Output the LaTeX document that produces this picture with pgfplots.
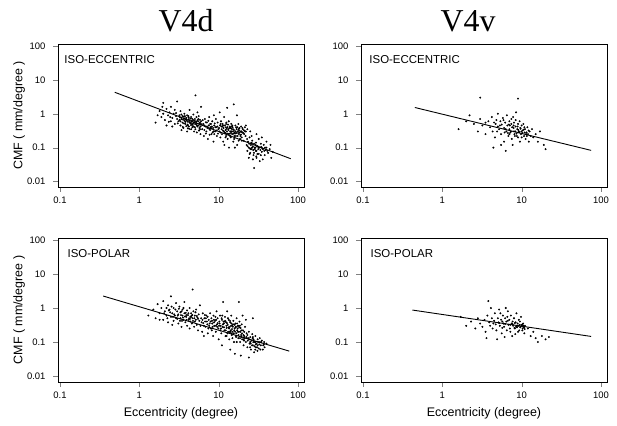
\documentclass[border=0pt]{standalone}
\usepackage{fontspec}
\setmainfont{Liberation Sans}
\newfontfamily\titlefont{Liberation Serif}
\usepackage{pgfplots}
\usepackage{pgfplotstable}
\pgfplotsset{compat=1.18}

% V4d iso-eccentric
\pgfplotstableread[row sep=\\]{x y\\
1.6 0.55\\ 1.8 1.2\\ 1.9 0.8\\ 2.0 2.1\\ 2.1 0.65\\ 2.2 1.4\\ 2.3 0.9\\ 2.4 1.1\\ 2.5 0.6\\ 2.5 1.6\\ 2.6 0.75\\ 2.7 1.0\\ 2.8 0.5\\ 2.8 1.3\\ 2.9 0.85\\ 3.0 2.3\\ 3.0 0.7\\ 2.2 0.45\\ 2.6 0.42\\ 1.7 0.9\\ 2.0 1.0\\ 2.35 0.58\\ 2.9 1.05\\ 2.45 0.8\\ 1.95 1.6\\
3.1 0.6\\ 3.2 0.9\\ 3.3 0.45\\ 3.3 1.2\\ 3.4 0.7\\ 3.5 0.55\\ 3.5 0.85\\ 3.6 0.38\\ 3.7 1.0\\ 3.7 0.62\\ 3.8 0.5\\ 3.9 0.75\\ 4.0 0.3\\ 4.0 0.9\\ 4.1 0.58\\ 4.2 0.68\\ 4.2 0.42\\ 4.3 1.3\\ 4.4 0.52\\ 4.5 0.8\\ 4.5 0.35\\ 4.6 0.62\\ 4.7 0.47\\ 4.8 0.95\\ 4.9 0.55\\ 5.0 0.4\\ 5.0 0.7\\ 5.1 3.5\\ 5.2 0.5\\ 5.3 0.28\\ 5.4 0.65\\ 5.5 0.45\\ 5.6 0.85\\ 5.7 0.38\\ 5.8 0.55\\ 5.9 0.25\\ 6.0 0.6\\ 6.0 1.6\\ 3.4 0.33\\ 3.9 0.43\\ 4.4 0.72\\ 4.9 0.3\\ 5.4 1.1\\ 5.9 0.42\\ 3.25 0.78\\ 3.65 0.52\\ 4.15 0.85\\ 4.65 0.4\\ 5.15 0.6\\ 5.65 0.32\\ 3.55 0.67\\ 4.05 0.48\\ 4.55 0.58\\ 5.05 0.5\\ 5.55 0.7\\ 3.75 0.85\\ 4.25 0.36\\ 4.75 0.66\\ 5.25 0.8\\ 5.75 0.48\\
3.05 0.52\\ 3.22 0.66\\ 3.38 0.95\\ 3.52 0.41\\ 3.68 0.73\\ 3.82 0.58\\ 3.96 0.64\\ 4.08 0.37\\ 4.18 0.77\\ 4.32 0.56\\ 4.48 0.46\\ 4.62 0.71\\ 4.78 0.53\\ 4.92 0.62\\ 5.08 0.35\\ 5.22 0.57\\ 5.38 0.42\\ 5.52 0.6\\ 5.68 0.52\\ 5.82 0.35\\ 5.95 0.5\\ 3.3 0.6\\ 3.8 0.68\\ 4.3 0.62\\ 4.8 0.42\\ 5.3 0.46\\ 5.8 0.66\\ 4.1 0.45\\ 4.6 0.5\\ 3.6 0.82\\
6.2 0.35\\ 6.4 0.5\\ 6.5 0.22\\ 6.7 0.7\\ 6.8 0.42\\ 7.0 0.3\\ 7.1 0.55\\ 7.3 0.18\\ 7.5 0.45\\ 7.6 0.8\\ 7.8 0.33\\ 8.0 0.5\\ 8.1 0.25\\ 8.3 0.6\\ 8.5 0.38\\ 8.6 0.15\\ 8.8 0.45\\ 9.0 0.3\\ 9.2 0.7\\ 9.3 0.4\\ 9.5 0.22\\ 9.7 0.55\\ 9.9 0.35\\ 6.3 0.65\\ 6.9 0.26\\ 7.4 0.62\\ 7.9 0.4\\ 8.4 0.28\\ 8.9 0.52\\ 9.4 0.32\\ 6.6 0.45\\ 7.2 0.38\\ 7.7 0.24\\ 8.2 0.42\\ 8.7 0.9\\
6.1 0.48\\ 6.6 0.33\\ 7.1 0.42\\ 7.6 0.36\\ 8.1 0.37\\ 8.6 0.3\\ 9.1 0.4\\ 9.6 0.42\\ 6.9 0.56\\ 7.8 0.5\\ 8.8 0.25\\ 9.8 0.26\\
10.2 0.3\\ 10.4 0.45\\ 10.5 0.2\\ 10.7 0.6\\ 10.9 0.35\\ 11.0 0.25\\ 11.2 0.5\\ 11.4 0.15\\ 11.5 0.38\\ 11.7 0.8\\ 11.9 0.28\\ 12.0 0.45\\ 12.2 0.33\\ 12.4 0.22\\ 12.5 0.55\\ 12.7 0.3\\ 12.9 0.4\\ 13.0 0.18\\ 13.2 0.35\\ 13.4 0.6\\ 13.6 0.26\\ 13.8 0.42\\ 14.0 0.3\\ 14.2 0.2\\ 14.4 0.5\\ 14.6 0.36\\ 14.8 0.25\\ 15.0 0.4\\ 15.3 0.15\\ 15.6 0.33\\ 15.9 0.28\\ 16.2 0.45\\ 16.5 0.22\\ 16.8 0.35\\ 17.1 0.12\\ 17.4 0.3\\ 17.7 0.5\\ 18.0 0.25\\ 18.3 0.38\\ 18.6 0.18\\ 18.9 0.3\\ 19.2 0.42\\ 19.5 0.2\\ 19.8 0.28\\ 20.2 0.35\\ 20.6 0.16\\ 21.0 0.25\\ 21.4 0.4\\ 21.8 0.22\\ 10.3 1.1\\ 12.8 1.5\\ 15.5 1.9\\ 17.0 0.9\\ 11.8 0.12\\ 13.5 0.1\\ 16.0 0.1\\ 10.8 0.42\\ 12.1 0.27\\ 13.1 0.48\\ 14.1 0.38\\ 15.1 0.3\\ 16.1 0.26\\ 17.2 0.4\\ 18.1 0.32\\ 19.1 0.24\\ 11.3 0.32\\ 12.6 0.36\\ 13.9 0.23\\ 14.9 0.45\\ 22.0 0.3\\ 22.0 0.45\\
10.1 0.38\\ 10.6 0.28\\ 11.1 0.42\\ 11.6 0.3\\ 12.3 0.4\\ 12.8 0.26\\ 13.3 0.33\\ 13.7 0.38\\ 14.3 0.27\\ 14.7 0.42\\ 15.2 0.35\\ 15.8 0.22\\ 16.3 0.3\\ 16.7 0.27\\ 17.3 0.22\\ 17.8 0.35\\ 18.4 0.28\\ 18.8 0.22\\ 19.4 0.3\\ 19.9 0.38\\ 20.4 0.27\\ 20.9 0.32\\ 21.6 0.3\\ 11.4 0.45\\ 12.4 0.5\\ 13.3 0.25\\ 14.5 0.3\\ 15.4 0.26\\ 16.6 0.4\\ 17.6 0.27\\ 10.6 0.5\\ 12.2 0.2\\ 14.0 0.22\\ 15.7 0.18\\ 17.9 0.16\\ 19.6 0.16\\
22.5 0.12\\ 23 0.08\\ 23.5 0.15\\ 24 0.1\\ 24.5 0.2\\ 25 0.07\\ 25.5 0.12\\ 26 0.09\\ 26.5 0.16\\ 27 0.11\\ 27.5 0.06\\ 28 0.13\\ 28.5 0.09\\ 29 0.1\\ 29.5 0.14\\ 30 0.08\\ 31 0.11\\ 32 0.065\\ 33 0.1\\ 34 0.13\\ 35 0.075\\ 36 0.09\\ 37 0.12\\ 38 0.06\\ 39 0.085\\ 40 0.1\\ 42 0.07\\ 44 0.09\\ 46 0.05\\ 48 0.075\\ 24 0.05\\ 27 0.045\\ 30 0.05\\ 33 0.04\\ 36 0.045\\ 28 0.025\\ 25 0.3\\ 30 0.25\\ 23 0.35\\ 26 0.22\\ 35 0.2\\ 32 0.18\\ 40 0.15\\ 45 0.12\\ 26.2 0.135\\ 29.2 0.12\\ 31.5 0.09\\ 34.5 0.105\\ 37.5 0.08\\ 24.8 0.095\\
23.2 0.11\\ 24.2 0.13\\ 25.2 0.09\\ 26.4 0.1\\ 27.3 0.085\\ 28.3 0.1\\ 29.4 0.08\\ 30.5 0.11\\ 31.8 0.1\\ 33.5 0.085\\ 35.5 0.095\\ 38.5 0.1\\ 25.8 0.14\\ 27.8 0.07\\ 30.8 0.065\\ 34 0.06\\ 22.8 0.18\\ 24.6 0.065\\ 29.8 0.055\\ 41 0.08\\
}\tableTL

% V4v iso-eccentric
\pgfplotstableread[row sep=\\]{x y\\
1.6 0.35\\ 2.0 0.6\\ 2.2 0.9\\ 2.5 0.5\\ 2.8 0.3\\ 3.0 0.7\\ 3.2 0.45\\ 3.5 0.55\\ 3.5 0.25\\ 3.8 0.6\\ 4.0 0.4\\ 4.2 0.8\\ 4.3 0.3\\ 4.5 0.55\\ 4.6 0.2\\ 4.8 0.65\\ 5.0 0.42\\ 5.0 1.0\\ 5.2 0.35\\ 5.4 0.6\\ 5.5 0.25\\ 5.6 0.48\\ 5.8 0.75\\ 6.0 0.38\\ 6.0 0.15\\ 6.2 0.55\\ 6.4 0.3\\ 6.5 0.9\\ 6.6 0.45\\ 6.8 0.22\\ 7.0 0.6\\ 7.0 0.35\\ 7.2 0.28\\ 7.4 0.5\\ 7.5 0.18\\ 7.6 0.4\\ 7.8 0.8\\ 8.0 0.3\\ 8.0 0.55\\ 8.2 0.22\\ 8.4 0.42\\ 8.5 1.1\\ 8.6 0.26\\ 8.8 0.35\\ 9.0 0.2\\ 9.0 0.5\\ 9.2 0.3\\ 9.4 0.6\\ 9.5 0.15\\ 9.6 0.38\\ 9.8 0.25\\ 10.0 0.45\\ 10.0 0.2\\ 10.3 0.32\\ 10.5 0.5\\ 10.7 0.22\\ 11.0 0.35\\ 11.2 0.18\\ 11.5 0.28\\ 11.8 0.4\\ 12.0 0.25\\ 12.3 0.15\\ 12.6 0.3\\ 13.0 0.22\\ 13.5 0.35\\ 14 0.2\\ 15 0.25\\ 16 0.15\\ 17 0.3\\ 19 0.12\\ 20 0.09\\ 3.0 3.0\\ 9.0 2.8\\ 5.5 0.12\\ 7.7 0.12\\ 4.4 0.1\\ 6.3 0.08\\ 5.9 0.65\\ 6.9 0.48\\ 7.9 0.38\\ 8.9 0.42\\ 9.9 0.3\\ 10.9 0.28\\ 6.1 0.28\\ 7.1 0.45\\ 8.1 0.25\\ 4.9 0.3\\
6.3 0.35\\ 7.3 0.3\\ 8.3 0.3\\ 9.3 0.28\\ 10.2 0.27\\ 11.3 0.25\\ 7.9 0.45\\ 8.7 0.22\\ 9.7 0.36\\ 10.8 0.4\\ 5.3 0.45\\ 6.7 0.27\\ 12.2 0.32\\ 4.7 0.5\\ 8.4 0.65\\ 7.4 0.7\\ 11.6 0.22\\ 9.1 0.33\\ 10.6 0.34\\ 7.0 0.25\\
}\tableTR

% V4d iso-polar
\pgfplotstableread[row sep=\\]{x y\\
1.3 0.6\\ 1.5 0.9\\ 1.6 0.5\\ 1.7 1.3\\ 1.8 0.7\\ 1.9 1.0\\ 2.0 0.45\\ 2.0 1.6\\ 2.1 0.8\\ 2.2 0.6\\ 2.3 1.2\\ 2.3 0.38\\ 2.4 0.9\\ 2.5 0.55\\ 2.5 2.2\\ 2.6 0.7\\ 2.7 1.0\\ 2.7 0.42\\ 2.8 0.6\\ 2.9 1.4\\ 2.9 0.5\\ 3.0 0.8\\ 3.1 0.35\\ 3.1 0.65\\ 3.2 1.1\\ 3.3 0.5\\ 3.3 0.75\\ 3.4 0.28\\ 3.5 0.9\\ 3.5 0.6\\ 3.6 0.45\\ 3.7 0.7\\ 3.7 1.5\\ 3.8 0.38\\ 3.9 0.55\\ 4.0 0.85\\ 4.0 0.3\\ 4.1 0.62\\ 4.2 0.45\\ 4.3 1.0\\ 4.3 0.25\\ 4.4 0.55\\ 4.5 0.7\\ 4.6 0.35\\ 4.7 3.5\\ 4.7 0.5\\ 4.8 0.8\\ 4.9 0.28\\ 5.0 0.6\\ 5.0 0.4\\ 5.2 0.9\\ 5.3 0.32\\ 5.4 0.52\\ 5.5 0.22\\ 5.6 0.65\\ 5.7 0.42\\ 5.8 1.2\\ 5.9 0.3\\ 6.0 0.5\\ 6.2 0.2\\ 6.3 0.7\\ 6.4 0.36\\ 6.5 0.15\\ 6.6 0.5\\ 6.8 0.28\\ 7.0 0.6\\ 7.1 0.4\\ 7.3 0.18\\ 7.5 0.45\\ 7.6 0.3\\ 7.8 0.7\\ 8.0 0.25\\ 8.1 0.5\\ 8.3 0.35\\ 8.5 0.15\\ 8.6 0.6\\ 8.8 0.3\\ 9.0 0.42\\ 9.2 0.2\\ 9.4 0.8\\ 9.5 0.33\\ 9.7 0.5\\ 9.9 0.25\\ 10.0 0.12\\ 10.2 0.4\\ 10.4 0.6\\ 10.6 0.3\\ 10.8 0.18\\ 11.0 0.45\\ 11.2 0.28\\ 11.4 1.5\\ 11.6 0.35\\ 11.8 0.22\\ 12.0 0.55\\ 12.2 0.15\\ 12.4 0.38\\ 12.6 0.26\\ 12.8 0.8\\ 13.0 0.32\\ 13.2 0.2\\ 13.4 0.45\\ 13.6 0.12\\ 13.8 0.28\\ 14.0 0.38\\ 14.2 0.22\\ 14.4 0.6\\ 14.6 0.16\\ 14.8 0.3\\ 15.0 0.2\\ 15.3 0.42\\ 15.6 0.1\\ 15.9 0.25\\ 16.2 0.35\\ 16.5 0.15\\ 16.8 0.5\\ 17.1 0.22\\ 17.4 0.3\\ 17.7 0.13\\ 18.0 0.2\\ 18.3 0.4\\ 18.6 0.1\\ 18.9 0.26\\ 19.2 0.16\\ 19.5 0.33\\ 19.8 0.12\\ 20.2 0.22\\ 20.6 0.08\\ 21.0 0.15\\ 21.5 0.28\\ 22.0 0.1\\ 22.5 0.18\\ 23.0 0.07\\ 23.5 0.13\\ 24.0 0.2\\ 24.5 0.09\\ 25.0 0.14\\ 25.5 0.06\\ 26.0 0.11\\ 26.5 0.17\\ 27.0 0.08\\ 27.5 0.12\\ 28.0 0.05\\ 28.5 0.1\\ 29.0 0.15\\ 29.5 0.07\\ 30.0 0.09\\ 31.0 0.12\\ 32.0 0.065\\ 33.0 0.1\\ 34.0 0.08\\ 35.0 0.11\\ 36.0 0.06\\ 37.0 0.085\\ 38.0 0.07\\ 40.0 0.09\\ 27 0.5\\ 22 0.45\\ 18 1.5\\ 20 0.6\\ 24 0.035\\ 19 0.04\\ 16 0.045\\ 14 0.06\\ 11 0.08\\
3.15 0.95\\ 3.45 0.42\\ 3.85 0.72\\ 4.25 0.5\\ 4.65 0.62\\ 5.1 0.75\\ 5.5 0.48\\ 6.1 0.38\\ 6.7 0.62\\ 7.2 0.33\\ 7.9 0.4\\ 8.7 0.45\\ 9.6 0.28\\ 10.5 0.22\\ 11.5 0.4\\ 12.5 0.3\\ 13.5 0.25\\ 14.5 0.35\\ 15.5 0.18\\ 16.5 0.28\\ 17.5 0.2\\ 18.5 0.3\\ 19.5 0.14\\ 21 0.2\\ 23 0.16\\ 25 0.1\\ 27 0.14\\ 29 0.1\\ 31 0.08\\ 33 0.13\\ 11.1 0.6\\ 12.1 0.42\\ 13.1 0.5\\ 14.1 0.2\\ 15.1 0.28\\ 16.1 0.2\\ 17.1 0.35\\ 10.1 0.3\\ 9.1 0.55\\ 8.2 0.22\\ 2.6 0.32\\ 2.2 1.0\\ 1.8 0.45\\ 3.0 0.48\\ 4.4 0.4\\ 5.3 0.58\\ 6.9 0.5\\ 12.9 0.18\\ 14.9 0.13\\ 16.9 0.1\\ 20.9 0.11\\ 24.9 0.07\\ 28.9 0.06\\
2.05 0.7\\ 2.25 0.5\\ 2.45 0.75\\ 2.65 0.55\\ 2.85 0.9\\ 3.05 0.6\\ 3.25 0.42\\ 3.35 0.62\\ 3.55 0.52\\ 3.75 0.56\\ 3.95 0.45\\ 4.15 0.7\\ 4.35 0.48\\ 4.55 0.6\\ 4.75 0.42\\ 4.95 0.5\\ 2.35 0.85\\ 2.75 0.65\\ 3.4 0.8\\ 3.9 0.62\\ 4.5 0.55\\ 5.15 0.45\\ 2.55 1.1\\ 3.6 1.0\\
6.25 0.45\\ 6.75 0.4\\ 7.25 0.55\\ 7.7 0.35\\ 8.25 0.42\\ 8.75 0.38\\ 9.25 0.3\\ 9.75 0.36\\ 6.5 0.3\\ 7.4 0.25\\ 8.4 0.28\\ 9.3 0.45\\
10.3 0.35\\ 10.7 0.25\\ 11.3 0.33\\ 11.7 0.27\\ 12.3 0.22\\ 12.7 0.36\\ 13.3 0.27\\ 13.7 0.2\\ 14.3 0.3\\ 14.7 0.24\\ 15.2 0.33\\ 15.7 0.22\\ 16.3 0.27\\ 16.7 0.18\\ 17.3 0.25\\ 17.8 0.16\\ 18.2 0.27\\ 18.7 0.2\\ 19.3 0.22\\ 19.7 0.18\\ 20.5 0.16\\ 21.3 0.13\\ 22.3 0.14\\ 23.3 0.11\\ 24.3 0.12\\ 10.9 0.5\\ 11.9 0.4\\ 13.9 0.42\\ 15.9 0.32\\ 17.9 0.3\\ 12.6 0.15\\ 14.6 0.18\\ 16.6 0.14\\ 18.6 0.13\\ 20.6 0.12\\
25.3 0.09\\ 26.3 0.08\\ 27.3 0.1\\ 28.3 0.075\\ 29.3 0.085\\ 30.5 0.07\\ 31.5 0.1\\ 32.5 0.085\\ 34.5 0.1\\ 36.5 0.08\\ 26.8 0.13\\ 30.8 0.055\\ 33.5 0.06\\ 37.5 0.1\\
}\tableBL

% V4v iso-polar
\pgfplotstableread[row sep=\\]{x y\\
1.7 0.55\\ 2.0 0.3\\ 2.3 0.4\\ 2.6 0.25\\ 2.8 0.5\\ 3.0 0.35\\ 3.2 0.28\\ 3.4 0.45\\ 3.5 0.2\\ 3.7 0.6\\ 3.8 1.6\\ 3.9 0.38\\ 4.0 0.3\\ 4.1 1.0\\ 4.2 0.5\\ 4.3 0.25\\ 4.5 0.42\\ 4.6 0.7\\ 4.7 0.33\\ 4.8 0.22\\ 5.0 0.5\\ 5.1 0.38\\ 5.2 0.9\\ 5.3 0.3\\ 5.5 0.45\\ 5.6 0.18\\ 5.8 0.6\\ 5.9 0.35\\ 6.0 0.28\\ 6.2 0.5\\ 6.3 1.0\\ 6.4 0.4\\ 6.5 0.22\\ 6.7 0.8\\ 6.8 0.32\\ 7.0 0.45\\ 7.1 0.25\\ 7.3 0.6\\ 7.5 0.35\\ 7.6 0.15\\ 7.8 0.3\\ 8.0 0.5\\ 8.2 0.25\\ 8.4 0.38\\ 8.6 0.7\\ 8.8 0.3\\ 9.0 0.2\\ 9.2 0.45\\ 9.4 0.32\\ 9.6 0.27\\ 9.8 0.55\\ 10.0 0.3\\ 10.2 0.22\\ 10.4 0.35\\ 10.6 0.28\\ 10.8 0.18\\ 11.0 0.3\\ 12 0.25\\ 13 0.15\\ 14 0.2\\ 15 0.13\\ 16 0.1\\ 18 0.15\\ 20 0.12\\ 22 0.14\\ 3.6 0.13\\ 4.9 0.12\\ 6.1 0.14\\ 7.2 0.2\\ 8.3 0.17\\ 9.3 0.22\\ 10.3 0.25\\ 8.9 0.35\\ 9.9 0.32\\ 10.5 0.3\\ 7.7 0.33\\ 6.6 0.55\\ 5.4 0.7\\ 5.7 0.26\\ 8.5 0.28\\
5.2 0.36\\ 6.2 0.34\\ 7.2 0.32\\ 8.2 0.36\\ 9.2 0.3\\ 10.2 0.32\\ 10.7 0.27\\ 9.7 0.28\\ 8.7 0.27\\ 7.7 0.4\\ 6.7 0.42\\ 5.7 0.4\\ 4.4 0.35\\ 10.9 0.24\\ 9.5 0.4\\ 8.1 0.26\\
}\tableBR

\pgfplotsset{every axis/.append style={
    scale only axis, width=246bp,
    xmin=0.0943, xmax=119,
    xtick={0.1,1,10,100}, xticklabels={0.1,1,10,100},
    ytick={0.01,0.1,1,10,100}, yticklabels={0.01,0.1,1,10,100},
    minor tick length=0pt,
    tick align=outside, tick pos=left, major tick length=5bp,
    axis line style={line width=0.9bp},
    ticklabel style={font=\fontsize{9.5}{11}\selectfont},
    yticklabel style={xshift=-4bp},
    xticklabel style={yshift=-1bp},
    label style={font=\fontsize{12.5}{14}\selectfont},
    xlabel style={at={(axis description cs:0.5,-0.215)}, anchor=center},
    ylabel style={at={(axis description cs:-0.158,0.5)}, anchor=center},
}}

\begin{document}
\begin{tikzpicture}
\useasboundingbox (0,0) rectangle (617bp,426bp);
\node[font=\titlefont\fontsize{32}{36}\selectfont, anchor=base] at (186bp,394bp) {V4d};
\node[font=\titlefont\fontsize{32}{36}\selectfont, anchor=base] at (468bp,394bp) {V4v};

\begin{loglogaxis}[anchor=south west, at={(58bp,239bp)}, height=143bp, ymin=0.00688, ymax=114.6, ylabel={CMF ( mm/degree )}]
\addplot[only marks, mark=*, mark size=0.75bp, black] table[x=x,y=y] {\tableTL};
\addplot[black, line width=0.9bp, no marks] coordinates {(0.49,4.3) (81,0.047)};
\node[anchor=west, font=\fontsize{11.5}{13}\selectfont] at (rel axis cs:0.012,0.888) {ISO-ECCENTRIC};
\end{loglogaxis}

\begin{loglogaxis}[anchor=south west, at={(361bp,239bp)}, height=143bp, ymin=0.00688, ymax=114.6]
\addplot[only marks, mark=*, mark size=0.75bp, black] table[x=x,y=y] {\tableTR};
\addplot[black, line width=0.9bp, no marks] coordinates {(0.45,1.53) (75,0.083)};
\node[anchor=west, font=\fontsize{11.5}{13}\selectfont] at (rel axis cs:0.02,0.888) {ISO-ECCENTRIC};
\end{loglogaxis}

\begin{loglogaxis}[anchor=south west, at={(58bp,44bp)}, height=144bp, ymin=0.00667, ymax=114.5, ylabel={CMF ( mm/degree )}, xlabel={Eccentricity (degree)}]
\addplot[only marks, mark=*, mark size=0.75bp, black] table[x=x,y=y] {\tableBL};
\addplot[black, line width=0.9bp, no marks] coordinates {(0.35,2.25) (77.6,0.054)};
\node[anchor=west, font=\fontsize{11.5}{13}\selectfont] at (rel axis cs:0.025,0.895) {ISO-POLAR};
\end{loglogaxis}

\begin{loglogaxis}[anchor=south west, at={(361bp,44bp)}, height=144bp, ymin=0.00667, ymax=114.5, xlabel={Eccentricity (degree)}]
\addplot[only marks, mark=*, mark size=0.75bp, black] table[x=x,y=y] {\tableBR};
\addplot[black, line width=0.9bp, no marks] coordinates {(0.42,0.87) (75,0.146)};
\node[anchor=west, font=\fontsize{11.5}{13}\selectfont] at (rel axis cs:0.025,0.895) {ISO-POLAR};
\end{loglogaxis}
\end{tikzpicture}
\end{document}
